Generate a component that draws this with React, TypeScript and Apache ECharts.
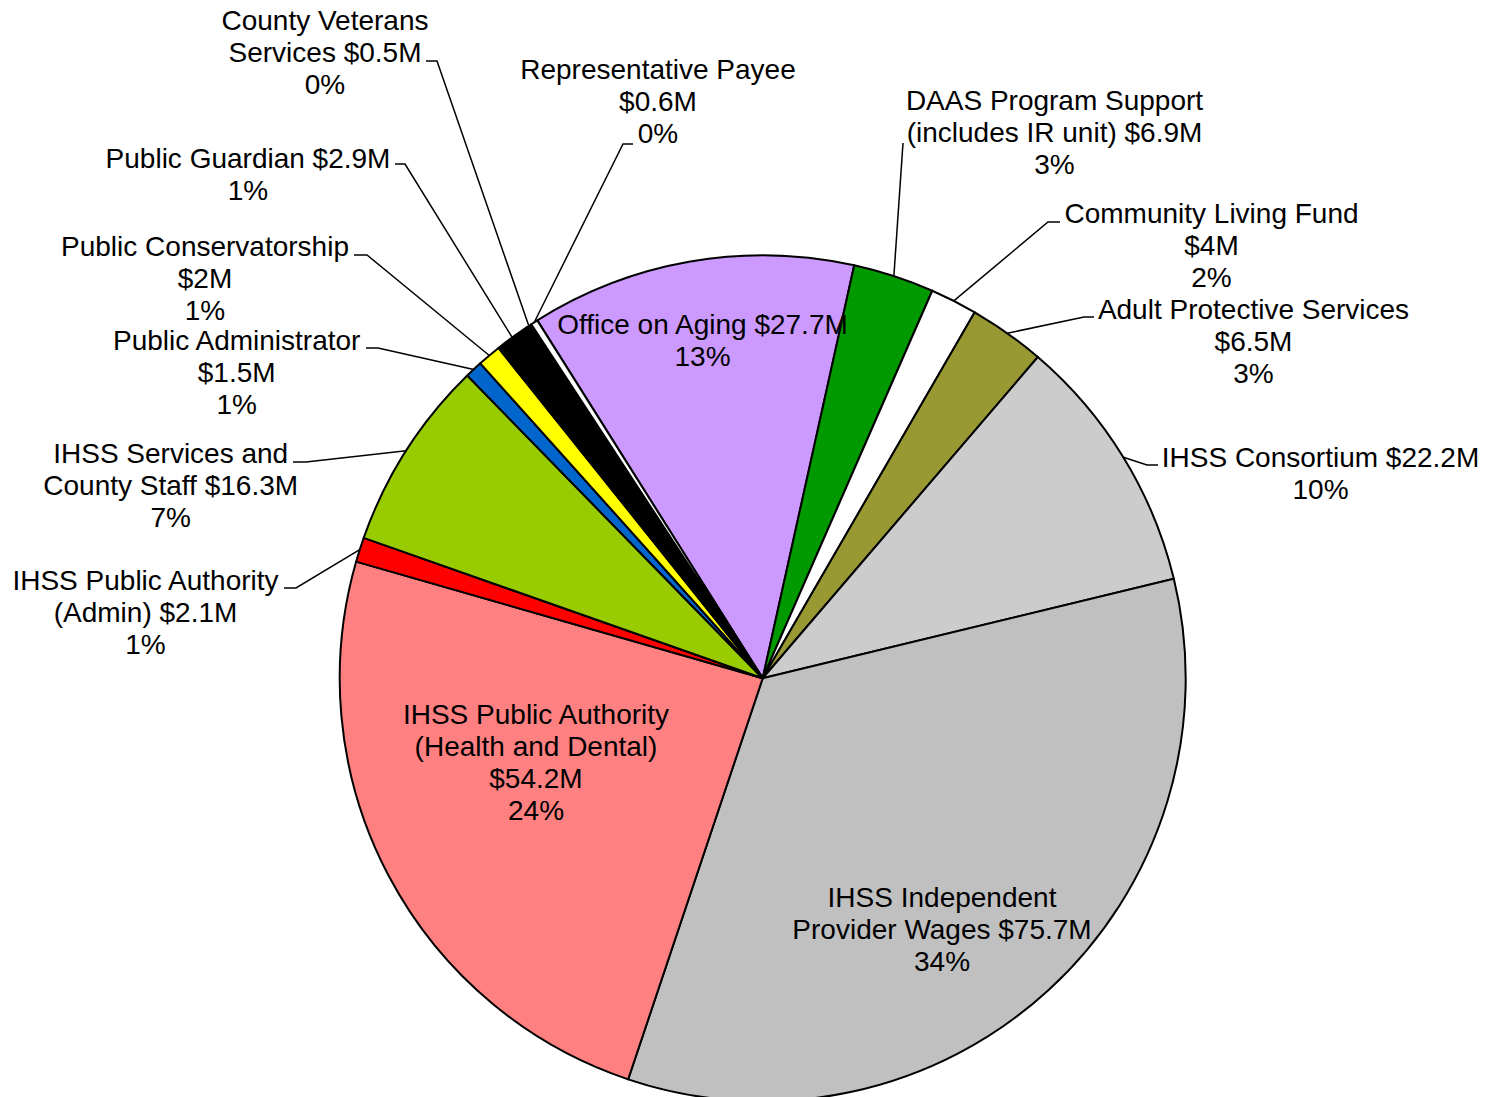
import React, { useEffect, useRef } from "react";
import * as echarts from "echarts";

// ---- Data ----
const categories: string[] = [
  "Office on Aging",
  "DAAS Program Support\n(includes IR unit)",
  "Community Living Fund",
  "Adult Protective Services",
  "IHSS Consortium",
  "IHSS Independent\nProvider Wages",
  "IHSS Public Authority\n(Health and Dental)",
  "IHSS Public Authority\n(Admin)",
  "IHSS Services and\nCounty Staff",
  "Public Administrator",
  "Public Conservatorship",
  "Public Guardian",
  "County Veterans\nServices",
  "Representative Payee",
];
const valuesM: number[] = [27.7, 6.9, 4, 6.5, 22.2, 75.7, 54.2, 2.1, 16.3, 1.5, 2, 2.9, 0.5, 0.6];

// ---- Label text layout (how the name and amount are joined) ----
const amountSeparators: string[] = [" ", " ", "\n", "\n", " ", " ", "\n", " ", " ", "\n", "\n", " ", " ", "\n"];

// ---- Styles ----
const sliceColors: string[] = [
  "#CC99FF", "#009900", "#FFFFFF", "#999933", "#CCCCCC", "#C0C0C0", "#FF8080",
  "#FF0000", "#99CC00", "#0066CC", "#FFFF00", "#000000", "#000000", "#FFFFFF",
];
const insideLabel: boolean[] = [true, false, false, false, false, true, true, false, false, false, false, false, false, false];

// ---- Label placement (text block centre) ----
const labelCenters: [number, number][] = [
  [702.5, 340], [1054.5, 132.5], [1211.5, 245], [1253.5, 341], [1320.5, 473],
  [942, 929], [536, 762], [145.5, 612], [170.7, 485], [236.7, 372],
  [205, 278], [248, 174], [325, 52], [658, 101.5],
];
// leader line: elbow point, then end next to the text
const leaderTails: ([number, number][] | null)[] = [
  null,
  [[903, 143], [903, 143]],
  [[1048, 222], [1060, 222]],
  [[1084, 317], [1094, 317]],
  [[1147, 465], [1158, 465]],
  null,
  null,
  [[296, 588], [284, 588]],
  [[306, 462], [293, 462]],
  [[378, 348], [366, 348]],
  [[367, 255], [354, 255]],
  [[405, 164], [395, 164]],
  [[437, 61], [426, 61]],
  [[623, 144], [633, 144]],
];

const FONT = "'Liberation Sans', Arial, Helvetica, sans-serif";

export default function App() {
  const ref = useRef<HTMLDivElement>(null);
  useEffect(() => {
    document.body.style.margin = "0";
    if (!ref.current) return;
    const chart = echarts.init(ref.current, undefined, { renderer: "svg" });
    const data = categories.map((name, i) => ({
      name,
      value: valuesM[i],
      itemStyle: { color: sliceColors[i] },
      label: { position: insideLabel[i] ? "inside" : "outside" },
      labelLine: { show: !insideLabel[i] },
    }));
    chart.setOption({
      animation: false,
      backgroundColor: "#ffffff",
      series: [
        {
          type: "pie",
          center: [762.7, 678.3],
          radius: 423,
          startAngle: 122.2,
          clockwise: true,
          percentPrecision: 0,
          avoidLabelOverlap: false,
          silent: true,
          emphasis: { disabled: true },
          itemStyle: { borderColor: "#000000", borderWidth: 2 },
          label: {
            show: true,
            color: "#000000",
            fontFamily: FONT,
            fontSize: 28,
            lineHeight: 32,
            overflow: "none",
            align: "center",
            formatter: (p: any) =>
              `${categories[p.dataIndex]}${amountSeparators[p.dataIndex]}$${p.value}M\n${p.percent}%`,
          },
          labelLine: {
            show: true,
            length: 4,
            length2: 4,
            smooth: false,
            lineStyle: { color: "#000000", width: 1.5 },
          },
          labelLayout: (p: any) => {
            const i = p.dataIndex;
            const c = labelCenters[i];
            const out: any = { x: c[0], y: c[1], align: "center", verticalAlign: "middle" };
            const tail = leaderTails[i];
            if (tail && p.labelLinePoints && p.labelLinePoints[0]) {
              out.labelLinePoints = [p.labelLinePoints[0], tail[0], tail[1]];
            }
            return out;
          },
          data,
        },
      ],
    });
    return () => chart.dispose();
  }, []);
  return <div ref={ref} style={{ width: 1495, height: 1097 }} />;
}
